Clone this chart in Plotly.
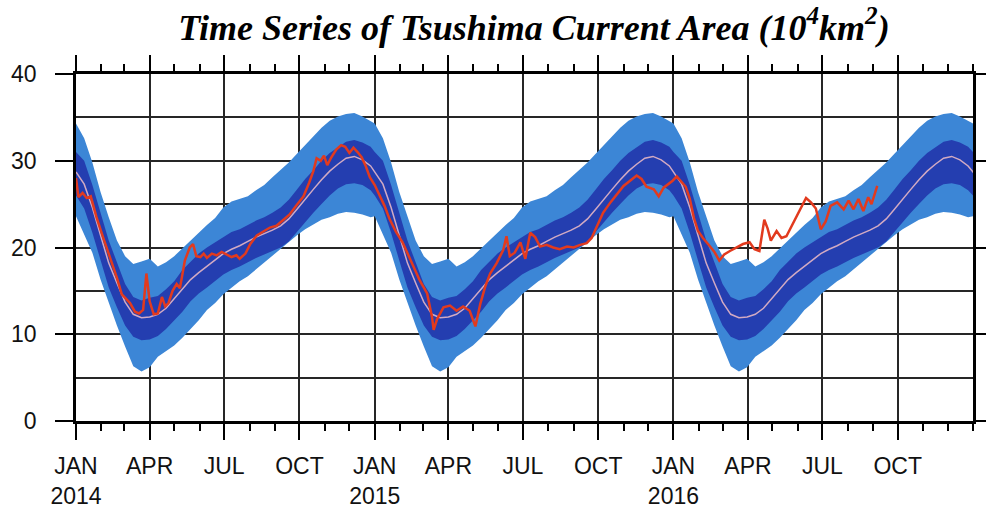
import pandas as pd
import plotly.graph_objects as go

# ---- Climatology (day of year) : mean, ±1 sigma band, ±2 sigma band ----
clim_doy = [0, 10, 20, 30, 40, 50, 60, 70, 80, 90, 100, 110, 120, 130, 140, 150, 160, 170, 180,
            190, 200, 210, 220, 230, 240, 250, 260, 270, 280, 290, 300, 310, 320, 330, 340, 350, 360]
clim_mean = [28.7, 27.3, 24.6, 21.3, 18.2, 15.9, 13.7, 12.3, 11.9, 12.0, 12.3, 13.0, 14.1, 15.2, 16.3,
             17.1, 17.8, 18.6, 19.3, 19.8, 20.2, 20.7, 21.2, 21.6, 22.0, 22.5, 23.3, 24.4, 25.6, 26.7,
             27.8, 28.8, 29.6, 30.3, 30.5, 30.1, 29.4]
dark_hi = [31.0, 30.0, 27.2, 24.0, 20.8, 18.3, 15.8, 14.3, 13.9, 14.2, 14.4, 15.2, 16.1, 17.4, 18.4,
           19.3, 20.0, 20.6, 21.3, 21.8, 22.1, 22.6, 23.1, 23.5, 24.0, 24.6, 25.5, 26.7, 27.9, 28.9,
           30.0, 30.9, 31.6, 32.2, 32.4, 32.1, 31.6]
dark_lo = [26.0, 24.5, 21.7, 18.5, 15.4, 13.1, 11.0, 9.7, 9.3, 9.4, 9.8, 10.6, 11.6, 12.6, 13.8,
           14.7, 15.4, 16.2, 16.9, 17.4, 17.8, 18.3, 18.8, 19.2, 19.6, 20.0, 20.7, 21.8, 23.0, 24.0,
           25.0, 26.0, 26.8, 27.3, 27.4, 27.2, 26.6]
light_hi = [34.3, 32.6, 29.8, 26.4, 23.5, 20.8, 19.0, 18.1, 18.4, 18.7, 17.8, 18.3, 19.0, 19.9, 20.8,
            21.8, 22.6, 23.4, 24.6, 25.3, 25.6, 25.9, 26.6, 27.2, 28.1, 28.9, 29.8, 30.8, 31.8, 32.8,
            33.8, 34.6, 35.1, 35.4, 35.5, 35.1, 34.6]
light_lo = [23.6, 21.5, 19.4, 16.3, 13.6, 11.0, 8.6, 6.3, 5.7, 6.2, 7.4, 8.1, 8.7, 9.6, 10.6,
            11.6, 12.8, 13.6, 14.6, 15.4, 16.1, 16.7, 17.5, 18.2, 19.0, 19.8, 20.7, 21.4, 22.1, 22.7,
            23.2, 23.5, 23.9, 24.1, 24.0, 23.8, 23.5]
clim_years = [2014, 2015, 2016, 2017]

# ---- Observed area (days since 2014-01-01) ----
obs_day = [0, 3, 8, 13, 18, 25, 33, 42, 50, 56, 60, 66, 72, 77, 82, 86, 90, 95, 100, 105, 109, 113,
           118, 123, 127, 133, 139, 143, 147, 152, 156, 160, 166, 172, 178, 184, 190, 196, 200, 207,
           213, 221, 229, 237, 245, 253, 261, 269, 278, 285, 290, 294, 299, 303, 307, 312, 318, 324,
           329, 334, 339, 344, 349, 354, 359, 365, 371, 377, 383, 391, 399, 408, 420, 429, 435, 437,
           441, 449, 457, 465, 473, 481, 488, 494, 500, 506, 514, 522, 526, 530, 536, 543, 549, 555,
           561, 567, 575, 583, 591, 600, 608, 616, 624, 630, 636, 644, 653, 661, 669, 677, 685, 691,
           697, 706, 712, 718, 726, 729, 734, 740, 745, 750, 755, 760, 766, 774, 780, 786, 792, 799,
           807, 815, 823, 829, 835, 841, 845, 849, 856, 862, 868, 874, 880, 886, 892, 898, 904, 910,
           916, 922, 930, 938, 944, 950, 956, 962, 968, 972, 979]
obs_val = [28.0, 25.8, 26.3, 25.7, 25.9, 23.5, 21.2, 18.8, 16.5, 14.6, 14.2, 13.6, 12.6, 12.4, 12.8,
           17.0, 13.8, 12.3, 12.4, 14.3, 13.2, 13.6, 15.0, 15.8, 15.3, 18.5, 20.0, 20.4, 19.0, 18.9,
           19.3, 18.8, 19.3, 19.1, 19.5, 19.2, 18.9, 19.1, 18.7, 19.3, 20.4, 21.4, 21.9, 22.3, 22.5,
           23.2, 23.8, 24.8, 25.9, 27.5, 28.8, 30.3, 30.0, 30.6, 29.5, 30.4, 31.3, 31.8, 31.6, 30.9,
           31.5, 31.0, 30.4, 29.4, 28.1, 27.2, 26.0, 24.8, 23.3, 21.8, 20.6, 18.8, 16.2, 14.7, 12.0,
           10.5, 11.7, 13.1, 13.3, 12.7, 13.2, 12.7, 10.9, 13.5, 15.5, 17.0, 18.2, 19.7, 21.3, 19.0,
           19.4, 20.6, 18.7, 21.7, 21.2, 20.1, 20.3, 20.0, 19.8, 20.1, 20.0, 20.3, 20.5, 21.1, 22.4,
           24.0, 25.2, 26.1, 27.1, 27.7, 28.3, 27.9, 27.0, 26.7, 25.9, 26.9, 27.5, 27.7, 28.2, 27.5,
           27.0, 25.6, 23.4, 21.9, 21.1, 20.2, 19.5, 18.5, 19.2, 19.6, 20.0, 20.4, 20.6, 19.8, 19.6,
           23.2, 22.2, 20.8, 21.9, 21.1, 21.3, 22.4, 23.6, 24.7, 25.7, 25.2, 24.5, 22.1, 23.0, 24.8,
           25.2, 24.4, 25.4, 24.4, 25.6, 24.2, 25.8, 25.0, 27.1]

# ---- Axis ticks ----
tick_dates = pd.date_range("2014-01-01", "2016-12-01", freq="QS")
tick_text = ["JAN<br>2014", "APR", "JUL", "OCT", "JAN<br>2015", "APR", "JUL", "OCT",
             "JAN<br>2016", "APR", "JUL", "OCT"]
month_dates = pd.date_range("2014-01-01", "2017-01-01", freq="MS")

# Build the repeating climatology over the whole period
c_x, c_mean, c_dhi, c_dlo, c_lhi, c_llo = [], [], [], [], [], []
for yr in clim_years:
    base = pd.Timestamp(f"{yr}-01-01")
    for i, d in enumerate(clim_doy):
        c_x.append(base + pd.Timedelta(days=d))
        c_mean.append(clim_mean[i])
        c_dhi.append(dark_hi[i])
        c_dlo.append(dark_lo[i])
        c_lhi.append(light_hi[i])
        c_llo.append(light_lo[i])

obs_x = [pd.Timestamp("2014-01-01") + pd.Timedelta(days=d) for d in obs_day]

LIGHT = "rgb(60,134,214)"
DARK = "rgb(36,62,176)"

fig = go.Figure()
fig.add_trace(go.Scatter(x=c_x, y=c_llo, mode="lines", line=dict(width=0), showlegend=False,
                         hoverinfo="skip"))
fig.add_trace(go.Scatter(x=c_x, y=c_lhi, mode="lines", line=dict(width=0), fill="tonexty",
                         fillcolor=LIGHT, showlegend=False, hoverinfo="skip"))
fig.add_trace(go.Scatter(x=c_x, y=c_dlo, mode="lines", line=dict(width=0), showlegend=False,
                         hoverinfo="skip"))
fig.add_trace(go.Scatter(x=c_x, y=c_dhi, mode="lines", line=dict(width=0), fill="tonexty",
                         fillcolor=DARK, showlegend=False, hoverinfo="skip"))
fig.add_trace(go.Scatter(x=c_x, y=c_mean, mode="lines", line=dict(color="rgb(210,170,195)", width=1.5),
                         showlegend=False))
fig.add_trace(go.Scatter(x=obs_x, y=obs_val, mode="lines", line=dict(color="rgb(226,58,30)", width=2.5),
                         showlegend=False))

GRID = "#262626"
fig.update_layout(
    width=986, height=511,
    margin=dict(l=76, r=13, t=74, b=90, autoexpand=False),
    paper_bgcolor="white", plot_bgcolor="white",
    title=dict(
        text="Time Series of Tsushima Current Area (10<sup>4</sup>km<sup>2</sup>)",
        font=dict(family="Liberation Serif", size=36, color="black", weight="bold", style="italic"),
        xref="container", x=534 / 986, xanchor="center",
        yref="container", y=1 - 27 / 511, yanchor="middle",
    ),
    font=dict(family="Liberation Sans, Arial", size=23, color="#111111"),
)
fig.update_xaxes(
    type="date", range=["2014-01-01", "2017-01-01"], automargin=False,
    tickmode="array", tickvals=tick_dates, ticktext=tick_text,
    ticks="outside", ticklen=16, tickwidth=2, tickcolor="black",
    ticklabelstandoff=7,
    showgrid=True, gridcolor=GRID, gridwidth=1.8,
    showline=True, linecolor="black", linewidth=2.5, mirror="ticks",
    minor=dict(tickmode="array", tickvals=month_dates, ticks="outside", ticklen=7,
               tickwidth=1.5, tickcolor="black", showgrid=False),
    zeroline=False, layer="above traces",
)
fig.update_yaxes(
    range=[0, 40], tickmode="linear", tick0=0, dtick=10, automargin=False,
    ticks="outside", ticklen=18, tickwidth=2, tickcolor="black",
    ticklabelstandoff=14,
    showgrid=True, gridcolor=GRID, gridwidth=1.8,
    minor=dict(tickmode="linear", tick0=0, dtick=5, showgrid=True, gridcolor=GRID, gridwidth=1.8,
               ticks=""),
    showline=True, linecolor="black", linewidth=2.5, mirror="ticks",
    zeroline=False, layer="above traces",
)

fig.write_html("out.html")
